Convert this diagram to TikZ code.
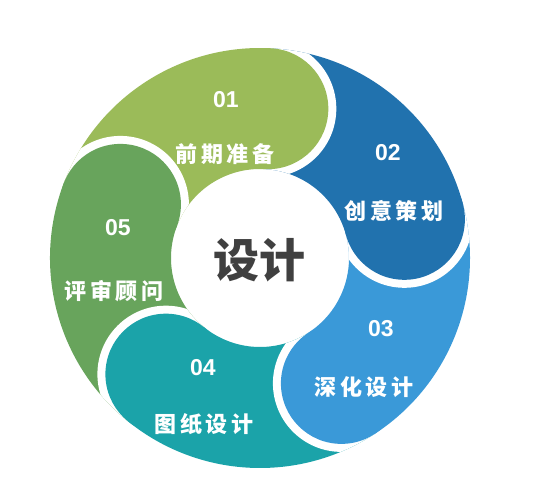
\documentclass[tikz,border=0pt]{standalone}
\usepackage{fontspec}
\setmainfont{Liberation Sans}
\newfontfamily\cjk{Noto Sans CJK SC}
\usepackage{tikz}
\definecolor{StepOne}{RGB}{155,187,89}
\definecolor{StepTwo}{RGB}{33,114,174}
\definecolor{StepThree}{RGB}{58,153,216}
\definecolor{StepFour}{RGB}{27,163,169}
\definecolor{StepFive}{RGB}{104,164,92}
\definecolor{HubGray}{RGB}{64,64,64}

\begin{document}
\begin{tikzpicture}[
    x=1pt, y=1pt,
    num/.style={
        text=white,
        font=\fontsize{23}{23}\selectfont\bfseries
    },
    tag/.style={
        text=white,
        font=\fontsize{22}{22}\selectfont\cjk\bfseries\addfontfeature{LetterSpace=17}
    },
    hub/.style={
        text=HubGray,
        font=\fontsize{46}{46}\selectfont\cjk\bfseries
    }
]
\useasboundingbox (-260,-232) rectangle (276,258);

\def\Rout{210}
\def\Rin{89}
\def\Rmid{149.5}
\def\Rhead{60.5}
\def\Rcut{68.5}

% ring pieces, tail cut out by the previous head
\foreach \h/\col in {87/StepOne,15/StepTwo,-57/StepThree,-129/StepFour,159/StepFive}{
    \begin{scope}
        \clip (\h:\Rout) arc[start angle=\h, end angle=\h+72, radius=\Rout]
            -- (\h+72:\Rin) arc[start angle=\h+72, end angle=\h, radius=\Rin] -- cycle;
        \fill[\col] (-300,-300) rectangle (300,300);
        \fill[white] (\h+72:\Rmid) circle (\Rcut);
    \end{scope}
}

% round heads
\foreach \h/\col in {87/StepOne,15/StepTwo,-57/StepThree,-129/StepFour,159/StepFive}{
    \fill[\col] (\h:\Rmid) circle (\Rhead);
}

\node[hub] (design) at (0,-2) {设计};

\node[num] (num01) at (-34,158) {01};
\node[tag] (tag01) at (-35,104) {前期准备};

\node[num] (num02) at (128,105) {02};
\node[tag] (tag02) at (134,47) {创意策划};

\node[num] (num03) at (121,-71) {03};
\node[tag] (tag03) at (104,-129) {深化设计};

\node[num] (num04) at (-57,-110) {04};
\node[tag] (tag04) at (-56,-166) {图纸设计};

\node[num] (num05) at (-142,30) {05};
\node[tag] (tag05) at (-146,-33) {评审顾问};

\end{tikzpicture}
\end{document}
